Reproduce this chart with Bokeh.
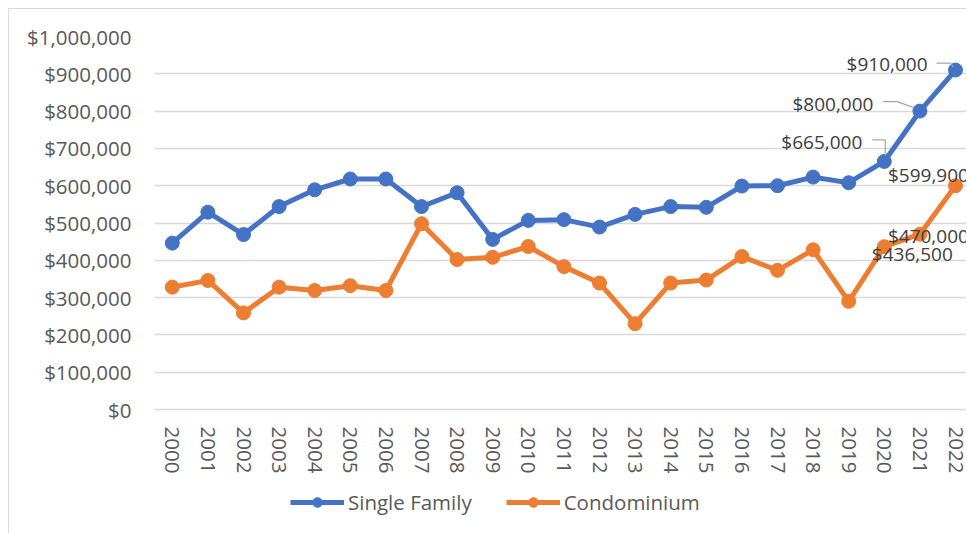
from bokeh.plotting import figure
from bokeh.layouts import column
from bokeh.models import (Range1d, FixedTicker, NumeralTickFormatter, Legend, LegendItem,
                          ColumnDataSource)
from bokeh.core.properties import value
from bokeh.embed import file_html
from bokeh.resources import INLINE

# ---- data ----
years = list(range(2000, 2023))
single_family = [446000, 529000, 469000, 544000, 589000, 618000, 618000, 544000, 581000, 456000,
                 507000, 509000, 489000, 523000, 544000, 542000, 599000, 600000, 623000, 608000,
                 665000, 800000, 910000]
condominium = [328000, 346000, 259000, 328000, 319000, 332000, 319000, 498000, 402000, 408000,
               437000, 383000, 339000, 230000, 339000, 347000, 410000, 373000, 428000, 290000,
               436500, 470000, 599900]
label_years = [2020, 2021, 2022]
series_names = ["Single Family", "Condominium"]

BLUE = "#4472C4"
ORANGE = "#ED7D31"
GRID = "#d9d9d9"
TXT = "#595959"
FONT = "Open Sans"

W, H = 958, 471
LEFT, TOP, RIGHT = 145, 27, 0
frame_h = 373
BOTTOM = H - TOP - frame_h
frame_w = W - LEFT - RIGHT
px_per_year = 35.6
x0 = 1999.5
x1 = x0 + frame_w / px_per_year
y0, y1 = 0, 1000000
px_per_val = frame_h / (y1 - y0)

p = figure(width=W, height=H, output_backend="svg", toolbar_location=None,
           x_range=Range1d(x0, x1), y_range=Range1d(y0, y1),
           min_border_left=LEFT, min_border_right=RIGHT, min_border_top=TOP,
           min_border_bottom=BOTTOM)
p.margin = (8, 0, 0, 8)
p.outline_line_color = None
p.background_fill_color = "white"
p.border_fill_color = "white"
p.styles = {"border-left": "1px solid #d9d9d9", "border-top": "1px solid #d9d9d9"}

# axes
p.xaxis.ticker = FixedTicker(ticks=years)
p.xaxis.major_label_orientation = "vertical"
p.xaxis.major_tick_line_color = None
p.xaxis.minor_tick_line_color = None
p.xaxis.major_tick_out = 0
p.xaxis.major_tick_in = 0
p.xaxis.axis_line_color = GRID
p.xaxis.axis_line_width = 1.5
p.xaxis.major_label_standoff = 17
p.xaxis.major_label_text_font = FONT
p.xaxis.major_label_text_font_size = "20.5px"
p.xaxis.major_label_text_color = TXT

p.yaxis.ticker = FixedTicker(ticks=list(range(0, 1000001, 100000)))
p.yaxis.formatter = NumeralTickFormatter(format="$0,0")
p.yaxis.axis_line_color = None
p.yaxis.major_tick_line_color = None
p.yaxis.minor_tick_line_color = None
p.yaxis.major_tick_out = 0
p.yaxis.major_tick_in = 0
p.yaxis.major_label_standoff = 23
p.yaxis.major_label_text_font = FONT
p.yaxis.major_label_text_font_size = "20.5px"
p.yaxis.major_label_text_color = TXT

p.xgrid.grid_line_color = None
p.ygrid.grid_line_color = GRID
p.ygrid.grid_line_width = 1.5
p.ygrid.ticker = FixedTicker(ticks=list(range(100000, 1000001, 100000)))

# series
p.line(years, single_family, line_color=BLUE, line_width=5)
p.scatter(years, single_family, size=14, fill_color=BLUE, line_color=BLUE)
p.line(years, condominium, line_color=ORANGE, line_width=5)
p.scatter(years, condominium, size=14, fill_color=ORANGE, line_color=ORANGE)

# leader lines (pixel offsets from the labelled point)
leader_px = {
    2022: [(-19, -7), (-5, -7), (-2, -3)],
    2021: [(-37, -9.5), (-23, -9.5), (-6, -3.5)],
    2020: [(-12, -21.5), (1, -21.5), (1, -6)],
}
xs, ys = [], []
for yr in label_years:
    v = single_family[years.index(yr)]
    xs.append([yr + dx / px_per_year for dx, dy in leader_px[yr]])
    ys.append([v - dy / px_per_val for dx, dy in leader_px[yr]])
p.multi_line(xs, ys, line_color="#a6a6a6", line_width=1.2)

# data labels
def fmt(v):
    return "${:,.0f}".format(v)

sf_src = ColumnDataSource(dict(
    x=label_years,
    y=[single_family[years.index(y)] for y in label_years],
    t=[fmt(single_family[years.index(y)]) for y in label_years],
    xo=[-22, -46.5, -28], yo=[-19.5, -7.5, -6.5]))
p.text("x", "y", text="t", source=sf_src, x_offset="xo", y_offset="yo",
       text_align="right", text_baseline="middle", text_font=value(FONT),
       text_font_size="19px", text_color="#404040")

co_src = ColumnDataSource(dict(
    x=label_years,
    y=[condominium[years.index(y)] for y in label_years],
    t=[fmt(condominium[years.index(y)]) for y in label_years],
    xo=[-12.5, -32, -67.5], yo=[7, 1.5, -11]))
p.text("x", "y", text="t", source=co_src, x_offset="xo", y_offset="yo",
       text_align="left", text_baseline="middle", text_font=value(FONT),
       text_font_size="19px", text_color="#404040")

# ---- legend strip below the chart (series drawn out of its view range) ----
p2 = figure(width=W, height=533 - 8 - H, output_backend="svg", toolbar_location=None,
            x_axis_type=None, y_axis_type=None, x_range=Range1d(0, 1), y_range=Range1d(0, 1),
            min_border_left=0, min_border_right=0, min_border_top=0, min_border_bottom=0)
p2.margin = (0, 0, 0, 8)
p2.outline_line_color = None
p2.grid.visible = False
p2.styles = {"border-left": "1px solid #d9d9d9"}
lg1 = p2.line(years, single_family, line_color=BLUE, line_width=5)
sg1 = p2.scatter(years, single_family, size=14, fill_color=BLUE, line_color=BLUE)
lg2 = p2.line(years, condominium, line_color=ORANGE, line_width=5)
sg2 = p2.scatter(years, condominium, size=14, fill_color=ORANGE, line_color=ORANGE)

legend = Legend(items=[LegendItem(label=series_names[0], renderers=[lg1, sg1]),
                       LegendItem(label=series_names[1], renderers=[lg2, sg2])],
                orientation="horizontal", location=(136, 17),
                glyph_width=54, glyph_height=24, label_standoff=4, spacing=34,
                padding=0, margin=0, border_line_color=None, background_fill_alpha=0,
                label_text_font=FONT, label_text_font_size="20.5px", label_text_color=TXT)
p2.add_layout(legend, "center")

layout = column(p, p2, spacing=0)
open("out.html", "w").write(file_html(layout, INLINE))
